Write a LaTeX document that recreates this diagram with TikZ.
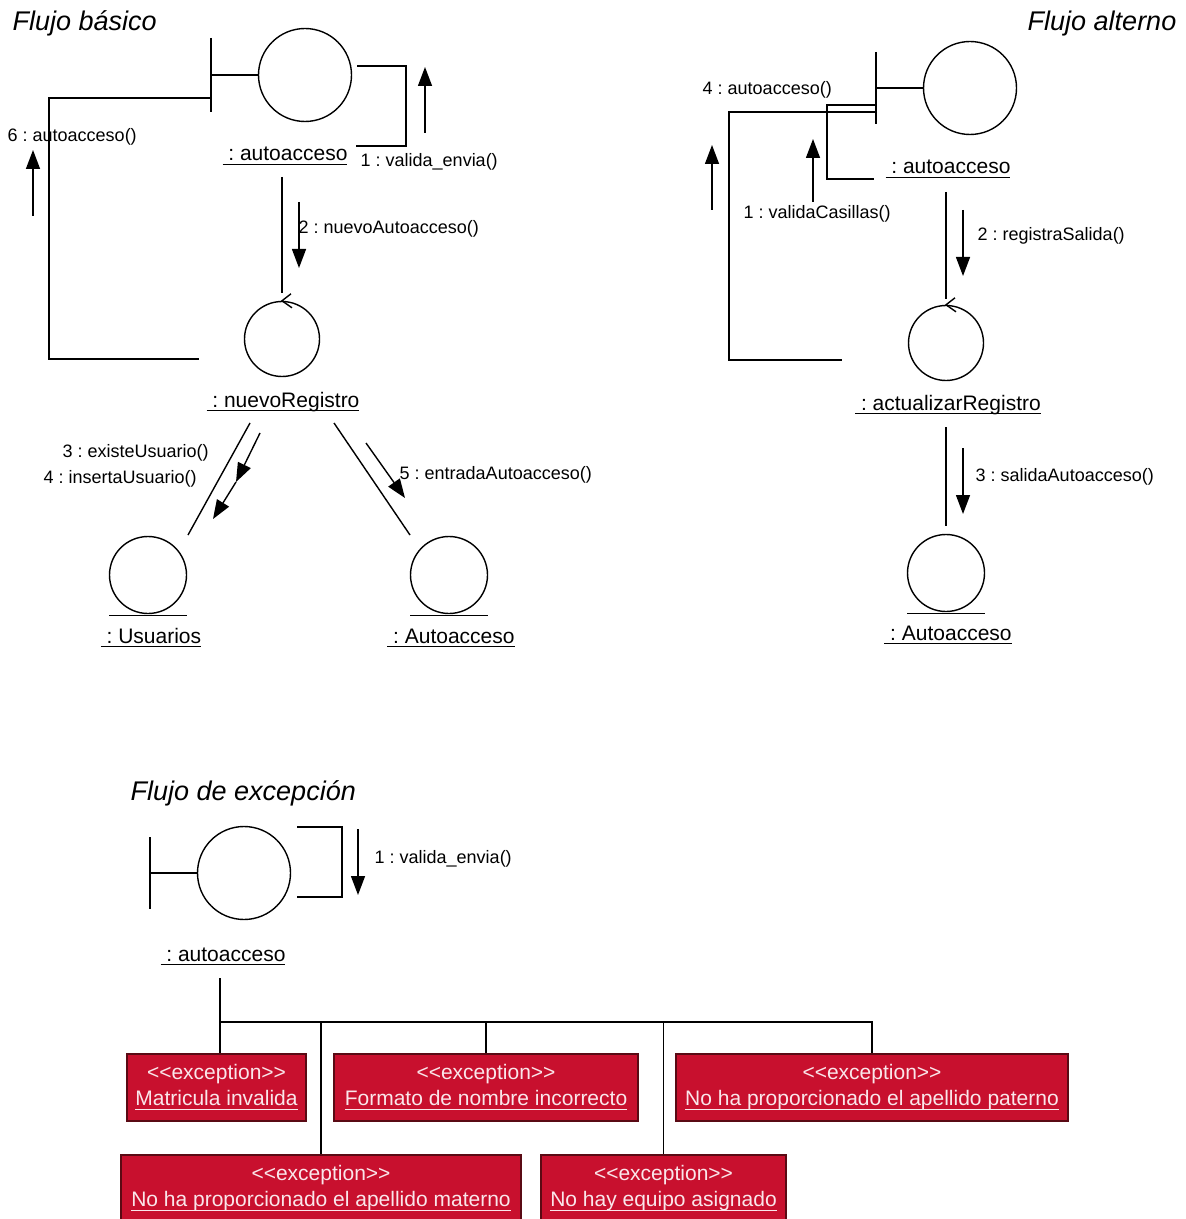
\documentclass[tikz,border=0pt]{standalone}
\usepackage{fontspec}
\newfontfamily\diagfont{Liberation Sans}
\usetikzlibrary{arrows.meta}
\definecolor{excfill}{RGB}{200,16,46}
\definecolor{excline}{RGB}{90,10,20}
\definecolor{exctext}{RGB}{250,230,234}
\newcommand{\ulname}[1]{\setbox0=\hbox{#1}\rlap{\rule[-2.2pt]{\wd0}{0.55pt}}\box0}
\frenchspacing
\tikzset{
  bnd/.style={circle,draw,minimum size=46.5pt,inner sep=0pt},
  ctl/.style={circle,draw,minimum size=37.5pt,inner sep=0pt},
  ent/.style={circle,draw,minimum size=38.5pt,inner sep=0pt},
  objname/.style={anchor=base,inner sep=0pt,font=\diagfont\fontsize{10.5}{12}\selectfont},
  msglabel/.style={anchor=base west,inner sep=0pt,font=\diagfont\fontsize{9}{11}\selectfont},
  flowtitle/.style={anchor=base west,inner sep=0pt,font=\diagfont\itshape\fontsize{13.5}{16}\selectfont},
  msg/.style={-{Triangle[length=9.5pt,width=7pt]}},
  exc/.style={draw=excline,fill=excfill,text=exctext,align=center,inner sep=0pt,
    minimum height=33.5pt,font=\diagfont\fontsize{10.5}{13}\selectfont}
}
\begin{document}
\begin{tikzpicture}[x=0.5pt,y=-0.5pt,line width=0.7pt]
\useasboundingbox (0,0) rectangle (1185,1219);

% Flujo basico
\node[flowtitle] (t1) at (12,31) {Flujo básico};
\node[bnd] (ba) at (305,75) {};
\draw (ba.west) -- ++(-47,0) ++(0,-37) -- ++(0,74);
\node[objname] (nba) at (285,161) {\ulname{\ : autoacceso}};
\node[ctl] (cn) at (282,339) {};
\draw (cn.north) ++(9,-7) -- (cn.north) -- ++(10,7);
\node[objname] (ncn) at (283,407) {\ulname{\ : nuevoRegistro}};
\node[ent] (eu) at (148,575) {};
\draw (eu.south) ++(-39,1) -- ++(78,0);
\node[objname] (neu) at (151,643) {\ulname{\ : Usuarios}};
\node[ent] (ea) at (449,575) {};
\draw (ea.south) ++(-39,1) -- ++(78,0);
\node[objname] (nea) at (451,643) {\ulname{\ : Autoacceso}};

\coordinate (s1a) at (357,66);
\coordinate (s1b) at (356,146);
\draw (s1a) -| (406,146) -- (s1b);
\draw[msg] (425,133) -- (425,67);
\node[msglabel] (m1) at (360,167) {1 : valida\_envia()};

\coordinate (k6a) at (211,98);
\coordinate (k6b) at (199,359);
\draw (k6a) -| (49,359) -- (k6b);
\draw[msg] (33,216) -- (33,150);
\node[msglabel] (m6) at (7,142) {6 : autoacceso()};

\draw ([yshift=-8pt]nba.base -| cn.north) -- ([yshift=3.75pt]cn.north);
\draw[msg] (299,202) -- (299,268);
\node[msglabel] (m2) at (298,234) {2 : nuevoAutoacceso()};

\coordinate (k3a) at (250,423);
\coordinate (k3b) at (188,535);
\draw (k3a) -- (k3b);
\draw[msg] (260,433) -- (236,482);
\draw[msg] (236,482) -- (213,519);
\node[msglabel] (m3) at (62,457) {3 : existeUsuario()};
\node[msglabel] (m4) at (43,483) {4 : insertaUsuario()};

\coordinate (k5a) at (334,423);
\coordinate (k5b) at (410,535);
\draw (k5a) -- (k5b);
\draw[msg] (366,443) -- (405,498);
\node[msglabel] (m5) at (399,479) {5 : entradaAutoacceso()};

% Flujo alterno
\node[flowtitle,anchor=base east] (t2) at (1177,31) {Flujo alterno};
\node[bnd] (bb) at (970,88) {};
\draw (bb.west) -- ++(-47,0) ++(0,-36) -- ++(0,72);
\node[objname] (nbb) at (948,174) {\ulname{\ : autoacceso}};
\node[ctl] (ca) at (946,343) {};
\draw (ca.north) ++(9,-7) -- (ca.north) -- ++(10,7);
\node[objname] (nca) at (948,410) {\ulname{\ : actualizarRegistro}};
\node[ent] (eb) at (946,573) {};
\draw (eb.south) ++(-39,1) -- ++(78,0);
\node[objname] (neb) at (948,640) {\ulname{\ : Autoacceso}};

\coordinate (q1a) at (876,105);
\coordinate (q1b) at (874,179);
\draw (q1a) -| (827,179) -- (q1b);
\draw[msg] (813,202) -- (813,139);
\node[msglabel] (n1) at (743,219) {1 : validaCasillas()};

\coordinate (q4a) at (877,112);
\coordinate (q4b) at (842,360);
\draw (q4a) -| (729,360) -- (q4b);
\draw[msg] (712,210) -- (712,145);
\node[msglabel] (n4) at (702,95) {4 : autoacceso()};

\draw ([yshift=-9pt]nbb.base -| ca.north) -- ([yshift=3pt]ca.north);
\draw[msg] (963,210) -- (963,276);
\node[msglabel] (n2) at (977,241) {2 : registraSalida()};

\draw ([yshift=-8.5pt]nca.base -| eb.north) -- ([yshift=4pt]eb.north);
\draw[msg] (963,448) -- (963,514);
\node[msglabel] (n3) at (975,481) {3 : salidaAutoacceso()};

% Flujo de excepcion
\node[flowtitle] (t3) at (130,800) {Flujo de excepción};
\node[bnd] (bc) at (244,873) {};
\draw (bc.west) -- ++(-47,0) ++(0,-36) -- ++(0,72);
\node[objname] (nbc) at (223,961) {\ulname{\ : autoacceso}};

\coordinate (x1a) at (297,827);
\coordinate (x1b) at (297,897);
\draw (x1a) -| (342,897) -- (x1b);
\draw[msg] (358,829) -- (358,895);
\node[msglabel] (x1) at (374,863) {1 : valida\_envia()};

\node[exc,minimum width=89.5pt] (e1) at (216.5,1087.5) {<<exception>>\\\ulname{Matricula invalida}};
\node[exc,minimum width=152pt] (e2) at (486,1087.5) {<<exception>>\\\ulname{Formato de nombre incorrecto}};
\node[exc,minimum width=196pt] (e3) at (872,1087.5) {<<exception>>\\\ulname{No ha proporcionado el apellido paterno}};
\node[exc,minimum width=200pt] (e4) at (321,1188.5) {<<exception>>\\\ulname{No ha proporcionado el apellido materno}};
\node[exc,minimum width=122.5pt] (e5) at (663.5,1188.5) {<<exception>>\\\ulname{No hay equipo asignado}};

\coordinate (hub) at (220,1022);
\draw ([yshift=-8.5pt]nbc.base -| hub) -- (hub);
\draw[line width=1.2pt] (hub) -- ++(220,0);
\draw (hub) -- (hub |- e1.north);
\foreach \b in {e2,e3,e4,e5}
  \draw (hub) -| (\b.north);
\end{tikzpicture}
\end{document}
